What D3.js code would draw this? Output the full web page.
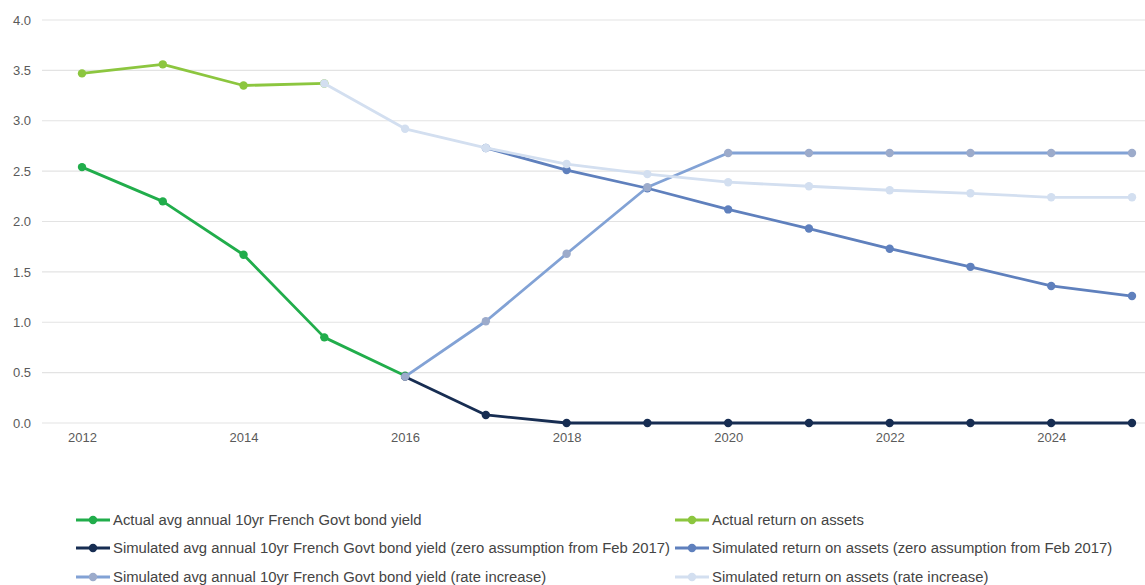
<!DOCTYPE html>
<html><head><meta charset="utf-8">
<script src="https://cdn.jsdelivr.net/npm/d3@7"></script>
<style>body{margin:0;background:#fff}svg{display:block}text{font-family:"Liberation Sans",Arial,sans-serif}</style>
</head><body><svg id="c" width="1145" height="585"></svg>
<script>
const years = [2012,2013,2014,2015,2016,2017,2018,2019,2020,2021,2022,2023,2024,2025];
const yTicks = [0,0.5,1,1.5,2,2.5,3,3.5,4];
const xTicks = [2012,2014,2016,2018,2020,2022,2024];
const seriesNames = [
  "Actual avg annual 10yr French Govt bond yield",
  "Actual return on assets",
  "Simulated avg annual 10yr French Govt bond yield (zero assumption from Feb 2017)",
  "Simulated return on assets (zero assumption from Feb 2017)",
  "Simulated avg annual 10yr French Govt bond yield (rate increase)",
  "Simulated return on assets (rate increase)"
];
const actualYield   = [2.54,2.20,1.67,0.85,0.47,null,null,null,null,null,null,null,null,null];
const actualROA     = [3.47,3.56,3.35,3.37,null,null,null,null,null,null,null,null,null,null];
const simYieldZero  = [null,null,null,null,0.46,0.08,0,0,0,0,0,0,0,0];
const simROAZero    = [null,null,null,null,null,2.73,2.51,2.33,2.12,1.93,1.73,1.55,1.36,1.26];
const simYieldRate  = [null,null,null,null,0.46,1.01,1.68,2.34,2.68,2.68,2.68,2.68,2.68,2.68];
const simROARate    = [null,null,null,3.37,2.92,2.73,2.57,2.47,2.39,2.35,2.31,2.28,2.24,2.24];
const lineColors   = ["#21ad4b","#8cc63f","#172d52","#5f80bd","#82a2d5","#d3dff0"];
const markerColors = ["#21ad4b","#8cc63f","#172d52","#5f80bd","#9cabcb","#d3dff0"];
const allSeries = [actualYield, actualROA, simYieldZero, simROAZero, simYieldRate, simROARate];

const svg = d3.select("#c");
const x = d3.scaleLinear().domain([2012,2025]).range([82,1132]);
const y = d3.scaleLinear().domain([0,4]).range([423,20]);

// grid
const grid = svg.append("g");
grid.selectAll("line").data(yTicks).join("line")
  .attr("x1",42).attr("x2",1145).attr("y1",d=>y(d)).attr("y2",d=>y(d))
  .attr("stroke","#e3e3e3").attr("stroke-width",1.2);

// y axis
const yAxis = svg.append("g").attr("transform","translate(31,0)")
  .call(d3.axisLeft(y).tickValues(yTicks).tickFormat(d3.format(".1f")).tickSize(0).tickPadding(0));
yAxis.select(".domain").remove();
yAxis.selectAll("text").attr("font-size",13).attr("fill","#5a5a5a");

// x axis
const xAxis = svg.append("g").attr("transform","translate(0,423)")
  .call(d3.axisBottom(x).tickValues(xTicks).tickFormat(d3.format("d")).tickSize(0).tickPadding(10));
xAxis.select(".domain").remove();
xAxis.selectAll("text").attr("font-size",13).attr("fill","#5a5a5a");

const line = d3.line().defined(d=>d.v!=null).x(d=>x(d.t)).y(d=>y(d.v));
allSeries.forEach((s,i)=>{
  const pts = s.map((v,j)=>({t:years[j],v}));
  const g = svg.append("g");
  g.append("path").datum(pts).attr("d",line).attr("fill","none")
    .attr("stroke",lineColors[i]).attr("stroke-width",2.8).attr("stroke-linejoin","round");
  g.selectAll("circle").data(pts.filter(d=>d.v!=null)).join("circle")
    .attr("cx",d=>x(d.t)).attr("cy",d=>y(d.v)).attr("r",4.2).attr("fill",markerColors[i]);
});

// legend
const legPos = [[76,520],[675,520],[76,548],[675,548],[76,577],[675,577]];
seriesNames.forEach((n,i)=>{
  const [lx,ly] = legPos[i];
  const g = svg.append("g").attr("transform",`translate(${lx},${ly})`);
  g.append("line").attr("x1",0).attr("x2",34).attr("y1",0).attr("y2",0)
    .attr("stroke",lineColors[i]).attr("stroke-width",2.8);
  g.append("circle").attr("cx",17).attr("cy",0).attr("r",4.2).attr("fill",markerColors[i]);
  g.append("text").attr("x",37).attr("y",0).attr("dy","0.35em")
    .attr("font-size",14.85).attr("fill","#444").text(n);
});
</script></body></html>
